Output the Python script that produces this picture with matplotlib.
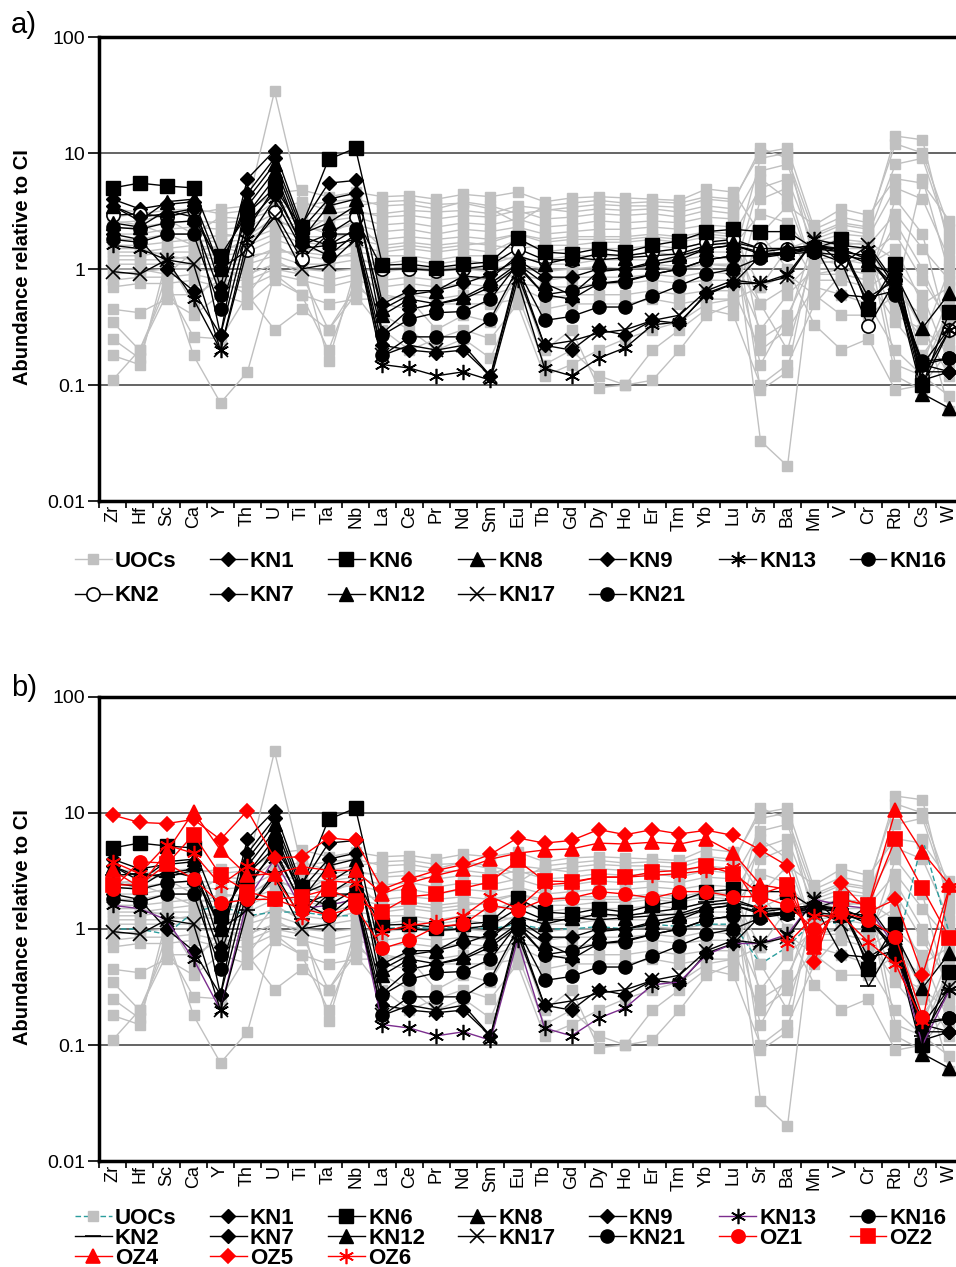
import numpy as np
import matplotlib.pyplot as plt
from matplotlib.lines import Line2D

plt.rcParams['font.family'] = ['Liberation Sans', 'DejaVu Sans']

nan = np.nan

# === elements on the x axis ===
elements = ['Zr', 'Hf', 'Sc', 'Ca', 'Y', 'Th', 'U', 'Ti', 'Ta', 'Nb',
            'La', 'Ce', 'Pr', 'Nd', 'Sm', 'Eu', 'Tb', 'Gd', 'Dy', 'Ho',
            'Er', 'Tm', 'Yb', 'Lu', 'Sr', 'Ba', 'Mn', 'V', 'Cr', 'Rb', 'Cs', 'W']

# === UOCs (grey field), CI-normalised ===
uoc_01 = [2.8, 3.0, 3.2, 3.3, 3.0, 3.2, 4.5, 4.8, 4.2, 4.6, 4.2, 4.3, 4.0, 4.4, 4.2, 4.6, 3.8, 4.1, 4.2, 4.1, 4.0, 3.9, 4.9, 4.6, 2.0, 3.5, 2.4, 3.3, 2.9, 6.0, 5.5, 2.6]
uoc_02 = [2.5, 2.6, 2.9, 3.0, 3.3, 3.5, 34.0, 3.5, 3.8, 4.0, 3.5, 3.6, 3.3, 3.8, 3.5, 3.0, 3.2, 3.4, 3.6, 3.5, 3.5, 3.4, 4.0, 3.8, 11.0, 9.0, 2.0, 2.5, 2.3, 14.0, 13.0, 1.5]
uoc_03 = [2.2, 2.3, 2.5, 2.6, 2.5, 2.6, 3.8, 3.0, 3.0, 3.2, 2.8, 2.9, 2.7, 2.9, 2.8, 3.2, 2.7, 2.8, 3.0, 2.9, 3.0, 2.8, 3.2, 3.0, 0.09, 0.13, 1.8, 2.2, 2.0, 8.0, 9.0, 1.8]
uoc_04 = [2.0, 2.0, 2.2, 2.3, 2.2, 2.3, 3.0, 2.6, 2.6, 2.8, 2.4, 2.5, 2.3, 2.5, 2.4, 2.7, 2.3, 2.4, 2.6, 2.5, 2.6, 2.5, 2.8, 2.7, 7.0, 8.0, 1.7, 2.0, 1.9, 5.0, 4.0, 1.2]
uoc_05 = [1.8, 1.8, 2.0, 2.0, 1.9, 2.0, 2.6, 2.2, 2.2, 2.4, 2.1, 2.2, 2.0, 2.2, 2.1, 2.3, 2.0, 2.1, 2.2, 2.2, 2.3, 2.2, 2.4, 2.3, 0.033, 0.02, 1.6, 1.8, 1.7, 0.5, 0.25, 1.0]
uoc_06 = [1.6, 1.6, 1.7, 1.8, 1.7, 1.8, 2.2, 1.9, 1.9, 2.0, 1.8, 1.9, 1.8, 1.9, 1.8, 2.0, 1.8, 1.9, 1.9, 1.9, 2.0, 1.9, 2.1, 2.0, 5.0, 6.0, 1.5, 1.7, 1.6, 3.0, 1.5, 0.8]
uoc_07 = [1.4, 1.4, 1.5, 1.6, 1.5, 1.6, 2.0, 1.7, 1.6, 1.8, 1.6, 1.7, 1.6, 1.7, 1.6, 1.5, 1.6, 1.6, 1.7, 1.7, 1.8, 1.7, 1.9, 1.8, 0.5, 0.2, 1.4, 1.5, 1.5, 0.12, 0.09, 0.5]
uoc_08 = [1.3, 1.3, 1.4, 1.4, 1.3, 1.4, 1.8, 1.5, 1.4, 1.6, 1.4, 1.5, 1.4, 1.5, 1.4, 1.8, 1.4, 1.5, 1.5, 1.5, 1.6, 1.5, 1.7, 1.6, 3.0, 2.5, 1.3, 1.4, 1.3, 2.0, 0.8, 0.35]
uoc_09 = [1.2, 1.2, 1.2, 1.3, 1.2, 1.2, 1.5, 1.3, 1.2, 1.4, 1.3, 1.3, 1.2, 1.3, 1.3, 1.2, 1.2, 1.3, 1.3, 1.3, 1.4, 1.3, 1.4, 1.4, 0.15, 0.4, 1.2, 1.3, 1.2, 0.4, 0.3, 0.2]
uoc_10 = [1.1, 1.1, 1.1, 1.1, 1.1, 1.1, 1.3, 1.1, 1.1, 1.2, 1.1, 1.2, 1.1, 1.2, 1.1, 1.3, 1.1, 1.1, 1.2, 1.2, 1.2, 1.2, 1.3, 1.2, 9.0, 10.0, 1.1, 1.2, 1.1, 1.5, 0.5, 0.7]
uoc_11 = [0.9, 0.95, 1.0, 1.0, 0.95, 0.9, 1.1, 1.0, 0.95, 1.0, 0.95, 1.0, 0.95, 1.0, 0.95, 1.0, 0.95, 1.0, 1.0, 1.0, 1.05, 1.0, 1.1, 1.05, 0.3, 0.6, 1.0, 1.0, 1.0, 0.8, 0.3, 0.12]
uoc_12 = [0.8, 0.85, 0.85, 0.9, 0.8, 0.8, 1.0, 0.9, 0.8, 0.9, 0.8, 0.85, 0.8, 0.85, 0.8, 0.9, 0.8, 0.85, 0.85, 0.85, 0.9, 0.85, 0.95, 0.9, 6.0, 4.0, 0.9, 0.9, 0.8, 4.0, 2.0, 0.25]
uoc_13 = [0.7, 0.75, 0.75, 0.8, 0.7, 0.7, 0.9, 0.8, 0.7, 0.8, 0.7, 0.75, 0.7, 0.75, 0.7, 0.75, 0.7, 0.7, 0.75, 0.75, 0.8, 0.75, 0.8, 0.8, 1.5, 2.0, 0.8, 0.8, 0.7, 1.0, 0.6, 0.15]
uoc_14 = [0.45, 0.42, 0.55, 0.4, 0.6, 0.5, 0.8, 0.6, 0.5, 0.55, 0.55, 0.6, 0.55, 0.6, 0.6, 0.7, 0.55, 0.6, 0.6, 0.6, 0.65, 0.6, 0.65, 0.65, 0.2, 0.3, 0.7, 0.6, 0.5, 0.2, 0.12, 0.08]
uoc_15 = [0.35, 0.2, 0.7, 0.26, 0.25, 0.6, 0.3, 0.45, 0.3, 0.7, 0.5, 0.45, 0.5, 0.5, 0.5, 0.55, 0.45, 0.5, 0.5, 0.5, 0.55, 0.5, 0.55, 0.55, 0.7, 0.9, 0.6, 0.4, 0.4, 0.6, 0.4, 0.06]
uoc_16 = [0.25, 0.17, 0.9, 0.18, 0.07, 0.13, 0.9, 0.6, 0.2, 0.8, 0.4, 0.3, 0.2, 0.25, 0.17, 0.6, 0.15, 0.2, 0.12, 0.1, 0.11, 0.2, 0.4, 0.5, 2.0, 1.0, 0.33, 0.2, 0.25, 0.09, 0.1, 0.2]
uoc_17 = [0.18, 0.15, 1.2, 0.5, 1.0, 0.8, 1.6, 1.2, 0.16, 1.0, 0.6, 0.55, 0.3, 0.4, 0.35, 0.9, 0.2, 0.3, 0.095, 0.1, 0.2, 0.3, 0.45, 0.4, 0.1, 0.15, 0.5, 0.9, 0.8, 0.35, 0.18, 0.4]
uoc_18 = [0.11, 0.2, 0.6, 0.6, 0.8, 0.6, 1.2, 0.9, 0.3, 0.6, 0.3, 0.2, 0.25, 0.3, 0.25, 0.5, 0.12, 0.15, 0.2, 0.25, 0.3, 0.35, 0.5, 0.55, 4.0, 5.0, 0.9, 1.0, 0.9, 2.5, 1.0, 0.3]
uoc_19 = [3.3, 3.1, 2.7, 2.0, 2.8, 2.7, 3.2, 3.8, 3.2, 3.5, 3.8, 3.9, 3.6, 3.7, 3.3, 2.5, 3.5, 3.7, 3.9, 3.7, 3.8, 3.7, 4.2, 4.0, 10.0, 11.0, 2.2, 2.8, 2.5, 12.0, 10.0, 2.2]
uoc_20 = [1.5, 1.5, 1.3, 1.2, 1.4, 1.8, 2.5, 2.4, 2.0, 2.6, 1.5, 1.6, 1.5, 1.6, 1.7, 2.0, 1.7, 1.8, 1.8, 1.8, 1.9, 1.8, 2.0, 1.9, 0.7, 1.5, 1.8, 1.6, 1.7, 1.2, 0.15, 0.6]
uoc_21 = [2.6, 2.4, 2.0, 1.6, 2.0, 1.9, 2.8, 2.0, 2.8, 3.0, 3.0, 3.2, 3.1, 3.2, 3.0, 3.5, 3.3, 3.1, 3.3, 3.2, 3.3, 3.1, 3.5, 3.3, 0.25, 0.35, 1.9, 2.4, 2.2, 0.15, 0.12, 0.5]
uoc_22 = [1.0, 1.0, 0.9, 1.4, 1.6, 1.3, 1.4, 1.4, 1.3, 1.3, 1.0, 1.05, 1.0, 1.05, 1.0, 1.1, 1.0, 1.0, 1.05, 1.0, 1.1, 1.05, 1.1, 1.1, 0.5, 0.7, 1.2, 1.1, 1.3, 0.6, 6.0, 0.9]
uocs = [uoc_22, uoc_01, uoc_02, uoc_03, uoc_04, uoc_05, uoc_06, uoc_07, uoc_08, uoc_09, uoc_10,
        uoc_11, uoc_12, uoc_13, uoc_14, uoc_15, uoc_16, uoc_17, uoc_18, uoc_19, uoc_20, uoc_21]

# === KN samples ===
kn1 = [4.0, 3.3, 3.6, 3.8, 0.7, 6.0, 10.5, 2.4, 5.5, 5.8, 0.5, 0.65, 0.65, 0.75, 0.9, 1.2, 0.85, 0.85, 1.0, 1.0, 1.1, 1.2, 1.5, 1.6, 1.4, 1.5, 1.6, 1.5, 0.5, 0.9, 0.13, 0.13]
kn2 = [2.9, 3.0, 2.8, 3.2, 1.0, 1.45, 3.1, 1.22, 2.0, 2.8, 1.0, 1.0, 0.97, 1.0, 1.08, 1.5, 1.2, 1.2, 1.35, 1.3, 1.4, 1.5, 1.7, 1.8, 1.5, 1.5, 1.4, 1.15, 0.32, 0.8, 0.12, 0.3]
kn6 = [5.0, 5.5, 5.2, 5.0, 1.3, 3.0, 5.0, 2.3, 8.8, 11.0, 1.08, 1.1, 1.03, 1.1, 1.15, 1.84, 1.4, 1.35, 1.5, 1.4, 1.6, 1.75, 2.1, 2.2, 2.1, 2.1, 1.5, 1.8, 0.45, 1.1, 0.1, 0.43]
kn7 = [3.5, 2.8, 3.0, 3.3, 0.27, 4.5, 9.0, 2.2, 4.0, 4.5, 0.28, 0.45, 0.5, 0.55, 0.7, 1.05, 0.6, 0.55, 0.75, 0.8, 0.9, 1.0, 1.2, 1.3, 1.3, 1.35, 1.5, 1.5, 0.57, 0.65, 0.15, 0.13]
kn8 = [3.5, 2.6, 3.8, 4.0, 1.0, 4.0, 8.0, 2.0, 2.5, 3.5, 0.45, 0.6, 0.65, 0.87, 0.83, 1.3, 1.1, 1.25, 1.2, 1.25, 1.3, 1.35, 1.6, 1.7, 1.5, 1.5, 1.6, 1.4, 1.1, 0.9, 0.31, 0.62]
kn9 = [2.0, 1.8, 1.0, 0.65, 0.27, 2.2, 5.0, 1.6, 2.0, 2.0, 0.22, 0.2, 0.19, 0.2, 0.12, 1.0, 0.22, 0.2, 0.3, 0.27, 0.36, 0.34, 0.62, 0.75, 1.3, 1.4, 1.6, 0.6, 0.57, 0.8, 0.11, 0.13]
kn12 = [2.5, 2.3, 3.2, 2.8, 1.1, 3.5, 7.0, 1.8, 3.5, 4.0, 0.4, 0.55, 0.5, 0.57, 0.75, 1.1, 0.75, 0.6, 0.95, 1.0, 1.15, 1.3, 1.5, 1.6, 1.35, 1.4, 1.55, 1.5, 1.2, 0.7, 0.084, 0.063]
kn13 = [1.6, 1.5, 1.2, 0.55, 0.2, 1.8, 4.0, 1.5, 1.6, 1.8, 0.15, 0.14, 0.12, 0.13, 0.11, 0.8, 0.14, 0.12, 0.17, 0.21, 0.33, 0.35, 0.6, 0.75, 0.75, 0.9, 1.8, 1.6, 1.5, 0.7, 0.1, 0.3]
kn16 = [2.3, 2.2, 2.5, 2.6, 0.6, 3.0, 6.0, 1.9, 1.6, 2.2, 0.27, 0.37, 0.42, 0.43, 0.55, 1.1, 0.6, 0.65, 0.75, 0.78, 0.9, 1.0, 1.2, 1.3, 1.3, 1.4, 1.5, 1.4, 1.3, 0.6, 0.16, 0.17]
kn17 = [0.95, 0.9, 1.2, 1.1, 0.2, 1.5, 2.8, 1.0, 1.1, 1.8, 0.18, 0.22, 0.2, 0.22, 0.12, 0.9, 0.22, 0.24, 0.28, 0.3, 0.36, 0.4, 0.65, 0.8, 0.75, 0.85, 1.8, 1.1, 1.6, 0.75, 0.15, 0.31]
kn21 = [1.8, 1.7, 2.0, 2.0, 0.45, 2.5, 4.5, 1.7, 1.3, 2.0, 0.18, 0.26, 0.26, 0.26, 0.37, 1.0, 0.36, 0.39, 0.47, 0.47, 0.58, 0.72, 0.9, 1.0, 1.25, 1.35, 1.4, 1.3, 1.2, 0.65, 0.15, 0.17]

# === OZ samples (panel b only) ===
oz1 = [2.2, 3.8, 3.7, 2.7, 1.66, 1.8, 1.8, 1.5, 1.32, 1.55, 0.68, 0.8, 1.05, 1.1, 1.6, 1.45, 1.8, 1.85, 2.1, 2.0, 1.85, 2.1, 2.1, 1.9, 1.9, 1.6, 1.0, 1.4, 1.2, 0.86, 0.176, nan]
oz2 = [2.4, 2.4, 3.6, 6.5, 2.9, 2.1, 1.8, 1.9, 2.2, 1.75, 1.41, 1.9, 2.0, 2.25, 2.55, 3.9, 2.6, 2.55, 2.8, 2.8, 3.1, 3.2, 3.5, 3.0, 2.0, 2.4, 0.75, 1.8, 1.6, 6.0, 2.24, 0.84]
oz4 = [3.2, 2.3, 4.6, 10.2, 4.8, 2.9, 3.0, 3.45, 3.2, 3.2, 2.0, 2.5, 2.9, 3.3, 4.0, 4.5, 4.8, 4.9, 5.5, 5.4, 5.6, 5.4, 6.0, 4.5, 2.4, 2.2, 0.7, 1.8, 1.6, 10.6, 4.6, 2.4]
oz5 = [9.6, 8.3, 8.1, 8.8, 5.9, 10.5, 4.1, 4.2, 6.1, 5.8, 2.2, 2.7, 3.2, 3.6, 4.4, 6.1, 5.5, 5.8, 7.2, 6.5, 7.2, 6.6, 7.1, 6.4, 4.8, 3.5, 0.52, 2.47, 1.4, 1.8, 0.4, 2.3]
oz6 = [3.8, 3.0, 5.3, 4.5, 2.4, 3.5, 2.8, 1.28, 2.6, 2.5, 0.95, 1.07, 1.15, 1.3, 1.9, 1.5, 2.4, 2.5, 2.8, 2.8, 2.9, 3.0, 3.2, 3.4, 1.5, 0.75, 1.3, 1.3, 0.77, 0.5, 0.16, 2.3]

GREY = '#c0c0c0'
RED = '#ff0000'
ASTER = (6, 2, 0)

x = np.arange(len(elements))


def kn_styles(panel_b):
    # (label, data, marker, size, facecolor, linecolor)
    return [
        ('KN1', kn1, 'D', 7.5, 'k', 'k'),
        ('KN2', kn2, '_' if panel_b else 'o', 11 if panel_b else 9.5,
         'k' if panel_b else 'white', 'k'),
        ('KN6', kn6, 's', 9.5, 'k', 'k'),
        ('KN7', kn7, 'D', 7.5, 'k', 'k'),
        ('KN8', kn8, '^', 9.5, 'k', 'k'),
        ('KN9', kn9, 'D', 7.5, 'k', 'k'),
        ('KN12', kn12, '^', 9.5, 'k', 'k'),
        ('KN13', kn13, ASTER, 11, 'k', '#7b2d8e' if panel_b else 'k'),
        ('KN16', kn16, 'o', 9.5, 'k', 'k'),
        ('KN17', kn17, 'x', 10, 'k', 'k'),
        ('KN21', kn21, 'o', 9.5, 'k', 'k'),
    ]


oz_styles = [
    ('OZ1', oz1, 'o', 9.5),
    ('OZ2', oz2, 's', 9.5),
    ('OZ4', oz4, '^', 9.5),
    ('OZ5', oz5, 'D', 7.5),
    ('OZ6', oz6, ASTER, 11),
]


def draw_panel(ax, panel_b):
    handles = {}
    for i, vals in enumerate(uocs):
        if panel_b and i == 0:
            ln, = ax.plot(x, vals, color='#2a9d9d', ls=(0, (4, 2)), lw=1.0, marker='s', ms=6.5,
                          mfc=GREY, mec=GREY, zorder=1.5)
        else:
            ln, = ax.plot(x, vals, color=GREY, lw=1.0, marker='s', ms=6.5,
                          mfc=GREY, mec=GREY, zorder=1)
        if i == 0:
            handles['UOCs'] = ln
    for lab, vals, mk, ms, fc, lc in kn_styles(panel_b):
        ln, = ax.plot(x, vals, color=lc, lw=1.0, marker=mk, ms=ms, mfc=fc, mec='k',
                      mew=1.2 if mk in ('x', ASTER, '_') or fc == 'white' else 1.0, zorder=3)
        handles[lab] = ln
    if panel_b:
        for lab, vals, mk, ms in oz_styles:
            ln, = ax.plot(x, vals, color=RED, lw=1.0, marker=mk, ms=ms, mfc=RED, mec=RED,
                          mew=1.2, zorder=4)
            handles[lab] = ln

    ax.set_yscale('log')
    ax.set_ylim(0.01, 100)
    ax.set_xlim(-0.5, len(elements) - 0.5)
    ax.set_yticks([0.01, 0.1, 1, 10, 100])
    ax.set_yticklabels(['0.01', '0.1', '1', '10', '100'])
    ax.yaxis.set_minor_locator(plt.NullLocator())
    ax.tick_params(axis='y', which='major', direction='out', length=8, width=1.2,
                   labelsize=14, pad=2)
    for yv in [0.1, 1, 10]:
        ax.axhline(yv, color='#3a3a3a', lw=1.1, zorder=0.5)

    ax.set_xticks(np.arange(-0.5, len(elements)))
    ax.set_xticklabels([])
    ax.set_xticks(x, minor=True)
    ax.set_xticklabels(elements, minor=True, rotation=90, fontsize=13)
    ax.tick_params(axis='x', which='major', direction='out', length=5, width=1.2)
    ax.tick_params(axis='x', which='minor', length=0, pad=3)

    for s in ax.spines.values():
        s.set_linewidth(2.5)
        s.set_color('k')
    return handles


fig = plt.figure(figsize=(9.56, 12.67), dpi=100)
W, H = 956.0, 1267.0

ax_a = fig.add_axes([99 / W, 1 - 501 / H, 864 / W, 464 / H])
ax_b = fig.add_axes([99 / W, 1 - 1161 / H, 864 / W, 464 / H])

h_a = draw_panel(ax_a, False)
h_b = draw_panel(ax_b, True)

for yc in [267, 927]:
    fig.text(23 / W, 1 - yc / H, 'Abundance relative to CI', rotation=90, ha='center',
             va='center', fontsize=14.5, fontweight='bold')

fig.text(11 / W, 1 - 25 / H, 'a)', fontsize=21, ha='left', va='center')
fig.text(11 / W, 1 - 688 / H, 'b)', fontsize=21, ha='left', va='center')

# legends (column-major order so rows read like the original)
leg_kw = dict(loc='upper left', ncol=7, frameon=False, prop={'weight': 'bold', 'size': 16},
              handlelength=1.65, handletextpad=0.15, columnspacing=1.5,
              borderpad=0, borderaxespad=0)

order_a = ['UOCs', 'KN2', 'KN1', 'KN7', 'KN6', 'KN12', 'KN8', 'KN17', 'KN9', 'KN21', 'KN13', 'KN16']
fig.legend([h_a[k] for k in order_a], order_a, bbox_to_anchor=(75 / W, 1 - 551 / H),
           labelspacing=0.6, **leg_kw)

order_b = ['UOCs', 'KN2', 'OZ4', 'KN1', 'KN7', 'OZ5', 'KN6', 'KN12', 'OZ6',
           'KN8', 'KN17', 'KN9', 'KN21', 'KN13', 'OZ1', 'KN16', 'OZ2']
fig.legend([h_b[k] for k in order_b], order_b, bbox_to_anchor=(75 / W, 1 - 1208 / H),
           labelspacing=-0.04, **leg_kw)

fig.savefig('out.png', dpi=100)
